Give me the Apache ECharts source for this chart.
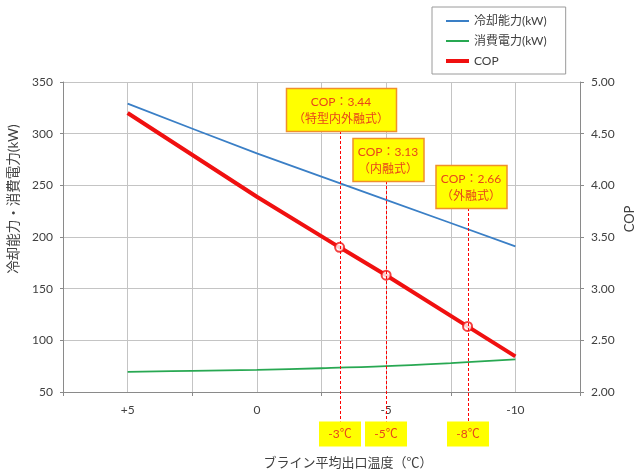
<!DOCTYPE html>
<html><head><meta charset="utf-8">
<script src="https://cdn.jsdelivr.net/npm/echarts@6/dist/echarts.min.js"></script>
<style>html,body{margin:0;padding:0;background:#fff}#c{width:636px;height:473px}</style>
</head><body><div id="c"></div>
<script>
// ---- data ----
const seriesNames = ['冷却能力(kW)', '消費電力(kW)', 'COP'];
const coolTemps = [5, 0, -5, -10];
const coolValues = [329, 281, 236, 191];
const powerTemps = [5, 2.5, 0, -2.5, -5, -7.5, -10];
const powerValues = [69.5, 70.5, 71.5, 73, 75, 78, 81.5];
const copTemps = [5, 0, -3.2, -5, -8.15, -10];
const copValues = [4.70, 3.89, 3.40, 3.13, 2.635, 2.345];
const markTemps = [-3.2, -5, -8.15];
const markCop = [3.40, 3.13, 2.635];
const markTempLabels = ['-3℃', '-5℃', '-8℃'];
const markCopLabels = ['COP：3.44', 'COP：3.13', 'COP：2.66'];
const markTypeLabels = ['（特型内外融式）', '（内融式）', '（外融式）'];
const xTickLabels = {'5': '+5', '0': '0', '-5': '-5', '-10': '-10'};
const xTitle = 'ブライン平均出口温度（℃）';
const yLeftTitle = '冷却能力・消費電力(kW)';
const yRightTitle = 'COP';

// ---- chart ----
const FONT = 'Lato, "Noto Sans CJK JP", sans-serif';
const chart = echarts.init(document.getElementById('c'), null, {renderer: 'canvas'});
const zip = (xs, ys) => xs.map((x, i) => [x, ys[i]]);
const axisLineColor = '#8a8a8a';
const gridColor = '#c4c4c4';
const thinIcon = 'path://M0,0L0.01,0ZM0,6.1H23V7.9H0ZM23,14L22.99,14Z';
const thickIcon = 'path://M0,0L0.01,0ZM0,5H23V9H0ZM23,14L22.99,14Z';
const colors = ['#3a7fc6', '#28a852', '#f01010'];

chart.setOption({
  animation: false,
  backgroundColor: '#fff',
  textStyle: {fontFamily: FONT},
  grid: {left: 63, right: 56, top: 82, height: 310},
  legend: {
    data: [
      {name: seriesNames[0], icon: thinIcon},
      {name: seriesNames[1], icon: thinIcon},
      {name: seriesNames[2], icon: thickIcon}
    ],
    orient: 'vertical',
    left: 432, top: 7,
    padding: [7, 19, 6, 14],
    itemGap: 6, itemWidth: 23, itemHeight: 14,
    itemStyle: {borderWidth: 0},
    borderColor: '#9a9a9a', borderWidth: 1,
    textStyle: {fontSize: 12, color: '#404040', fontFamily: FONT}
  },
  xAxis: [{
    type: 'value', inverse: true, min: -12.5, max: 7.5, interval: 2.5,
    axisLine: {show: true, onZero: false, lineStyle: {color: axisLineColor, width: 1}},
    axisTick: {show: false},
    splitLine: {show: true, lineStyle: {color: gridColor, width: 1}},
    axisLabel: {
      margin: 12, fontSize: 12, color: '#404040', fontFamily: FONT,
      formatter: v => (xTickLabels[String(v)] !== undefined ? xTickLabels[String(v)] : '')
    }
  }, {
    type: 'value', min: 0, max: 20, interval: 5, position: 'bottom',
    axisLine: {show: true, onZero: false, lineStyle: {color: axisLineColor, width: 1}},
    axisTick: {show: true, length: 4, lineStyle: {color: axisLineColor}},
    axisLabel: {show: false}, splitLine: {show: false}
  }],
  yAxis: [{
    type: 'value', min: 50, max: 350, interval: 50, position: 'left',
    axisLine: {show: true, onZero: false, lineStyle: {color: axisLineColor, width: 1}},
    axisTick: {show: true, length: 3, lineStyle: {color: axisLineColor}},
    splitLine: {show: true, lineStyle: {color: gridColor, width: 1}},
    axisLabel: {margin: 10, fontSize: 12, color: '#404040', fontFamily: FONT}
  }, {
    type: 'value', min: 2, max: 5, interval: 0.5, position: 'right',
    axisLine: {show: true, onZero: false, lineStyle: {color: axisLineColor, width: 1}},
    axisTick: {show: true, length: 4, lineStyle: {color: axisLineColor}},
    splitLine: {show: false},
    axisLabel: {margin: 11, fontSize: 12, color: '#404040', fontFamily: FONT,
      formatter: v => v.toFixed(2)}
  }],
  series: [{
    name: seriesNames[0], type: 'line', xAxisIndex: 0, yAxisIndex: 0,
    data: zip(coolTemps, coolValues), symbol: 'none', smooth: 0.2,
    lineStyle: {color: colors[0], width: 1.8}, itemStyle: {color: colors[0]}, z: 3
  }, {
    name: seriesNames[1], type: 'line', xAxisIndex: 0, yAxisIndex: 0,
    data: zip(powerTemps, powerValues), symbol: 'none', smooth: 0.4,
    lineStyle: {color: colors[1], width: 1.8}, itemStyle: {color: colors[1]}, z: 3
  }, {
    name: seriesNames[2], type: 'line', xAxisIndex: 0, yAxisIndex: 1,
    data: zip(copTemps, copValues), symbol: 'none',
    lineStyle: {color: colors[2], width: 4}, itemStyle: {color: colors[2]}, z: 4
  }, {
    name: 'COP点', type: 'scatter', xAxisIndex: 0, yAxisIndex: 1,
    data: zip(markTemps, markCop), symbol: 'circle', symbolSize: 9,
    itemStyle: {color: '#ffffff', borderColor: colors[2], borderWidth: 2}, z: 5
  }]
});

function drawAnnotations() {
  const boxTops = [88, 138, 165];
  const boxWidths = [110, 71, 71];
  const boxShift = [1, 2, 3];
  const boxH = 43;
  const lowTop = 421.5, lowH = 25, lowW = 42;
  const textColor = '#e8461a';
  const g = [];
  markTemps.forEach((t, i) => {
    const raw = chart.convertToPixel({xAxisIndex: 0}, t);
    const px = Math.round(raw) + 0.5;
    const cx = Math.round(raw + boxShift[i]);
    g.push({type: 'line', silent: true, z: 10,
      shape: {x1: px, y1: boxTops[i] + boxH, x2: px, y2: lowTop},
      style: {stroke: '#ff0000', lineWidth: 1, lineDash: [3, 2]}});
    g.push({type: 'rect', z: 11,
      shape: {x: cx - boxWidths[i] / 2 + 0.5, y: boxTops[i] + 0.5, width: boxWidths[i], height: boxH},
      style: {fill: '#ffff00', stroke: '#f0902a', lineWidth: 1.5}});
    g.push({type: 'text', z: 12, x: cx, y: boxTops[i] + boxH / 2 + 1,
      style: {text: markCopLabels[i] + '\n' + markTypeLabels[i], align: 'center',
        verticalAlign: 'middle', lineHeight: 17, fontSize: 12, fontFamily: FONT, fill: textColor}});
    g.push({type: 'rect', z: 11,
      shape: {x: Math.round(raw) - lowW / 2, y: lowTop, width: lowW, height: lowH},
      style: {fill: '#ffff00'}});
    g.push({type: 'text', z: 12, x: Math.round(raw), y: lowTop + lowH / 2,
      style: {text: markTempLabels[i], align: 'center', verticalAlign: 'middle',
        fontSize: 12, fontFamily: FONT, fill: textColor}});
  });
  g.push({type: 'text', x: 348, y: 463,
    style: {text: xTitle, align: 'center', verticalAlign: 'middle', fontSize: 13,
      fontFamily: FONT, fill: '#404040'}});
  g.push({type: 'text', x: 14, y: 199, rotation: Math.PI / 2,
    style: {text: yLeftTitle, align: 'center', verticalAlign: 'middle', fontSize: 13.5,
      fontFamily: FONT, fill: '#404040'}});
  g.push({type: 'text', x: 630, y: 219, rotation: Math.PI / 2,
    style: {text: yRightTitle, align: 'center', verticalAlign: 'middle', fontSize: 13,
      fontFamily: FONT, fill: '#404040'}});
  chart.setOption({graphic: g});
}
drawAnnotations();
</script>
</body></html>
